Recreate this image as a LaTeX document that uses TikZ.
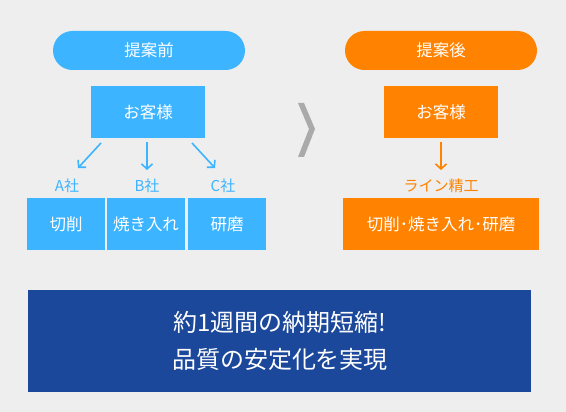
\documentclass[tikz,border=0pt]{standalone}
\usepackage{fontspec}
\usetikzlibrary{arrows.meta}
\setmainfont{Noto Sans CJK JP}
\definecolor{bg}{HTML}{EEEEEE}
\definecolor{lblue}{HTML}{3DB4FF}
\definecolor{orng}{HTML}{FF8200}
\definecolor{navy}{HTML}{1B489B}
\definecolor{chev}{HTML}{AAAAAA}
\begin{document}
\begin{tikzpicture}[x=1pt,y=-1pt,
  pill/.style={rounded corners=19.5pt, inner sep=0pt, text=white, font=\fontsize{16.5}{18}\selectfont},
  boxb/.style={fill=lblue, inner sep=0pt, text=white, font=\fontsize{16.5}{18}\selectfont},
  boxo/.style={fill=orng, inner sep=0pt, text=white, font=\fontsize{16.5}{18}\selectfont},
  lab/.style={inner sep=0pt, font=\fontsize{15}{17}\selectfont},
  arr/.style={draw, line width=1.6pt, -{Straight Barb[length=5pt,width=11pt]}}]
\useasboundingbox[fill=bg] (0,0) rectangle (566,412);
% left pill
\node[pill, fill=lblue, minimum width=192pt, minimum height=39pt] (pre) at (149,50.5) {提案前};
\node[boxb, minimum width=114pt, minimum height=52pt] (cust1) at (148,112) {お客様};
\node[lab, text=lblue] (A) at (67,186) {A社};
\node[lab, text=lblue] (B) at (147,186) {B社};
\node[lab, text=lblue] (C) at (223,186) {C社};
\node[boxb, minimum width=78pt, minimum height=52pt] (cut) at (66,224) {切削};
\node[boxb, minimum width=78pt, minimum height=52pt] (hard) at (146,224) {焼き入れ};
\node[boxb, minimum width=78pt, minimum height=52pt] (grind) at (227,224) {研磨};
\coordinate (a1) at (101,143); \coordinate (a2) at (78,168);
\coordinate (b1) at (147,142); \coordinate (b2) at (147,170);
\coordinate (c1) at (192,143); \coordinate (c2) at (215,168);
\draw[arr, lblue] (a1) -- (a2);
\draw[arr, lblue] (b1) -- (b2);
\draw[arr, lblue] (c1) -- (c2);
% chevron
\fill[chev] (298,103) -- (304,103) -- (315,129) -- (304,157) -- (298,157) -- (309,129) -- cycle;
% right
\node[pill, fill=orng, minimum width=192pt, minimum height=39pt] (post) at (441,50.5) {提案後};
\node[boxo, minimum width=114pt, minimum height=52pt] (cust2) at (441,112) {お客様};
\node[lab, text=orng] (L) at (441,186) {ライン精工};
\node[boxo, minimum width=196pt, minimum height=52pt] (all) at (441,224) {切削･焼き入れ･研磨};
\coordinate (d1) at (441,142); \coordinate (d2) at (441,170);
\draw[arr, orng] (d1) -- (d2);
% bottom
\node[fill=navy, minimum width=503pt, minimum height=102pt, inner sep=0pt] (res) at (279.5,340.5) {};
\node[text=white, align=center, font=\fontsize{24}{37}\selectfont] (restext) at (280,341) {約1週間の納期短縮!\\品質の安定化を実現};
\end{tikzpicture}
\end{document}
